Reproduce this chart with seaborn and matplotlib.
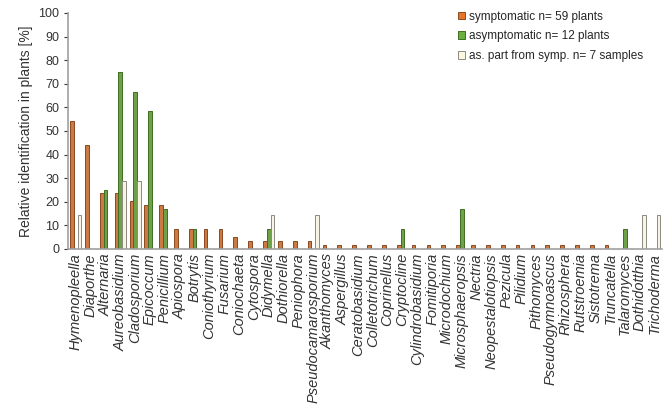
import pandas as pd
import numpy as np
import matplotlib
matplotlib.use("Agg")
import matplotlib.pyplot as plt
import seaborn as sns

# --- data (percent of plants / samples) ---
genera = ["Hymenopleella", "Diaporthe", "Alternaria", "Aureobasidium", "Cladosporium",
          "Epicoccum", "Penicillium", "Apiospora", "Botrytis", "Coniothyrium", "Fusarium",
          "Coniochaeta", "Cytospora", "Didymella", "Dothiorella", "Peniophora",
          "Pseudocamarosporium", "Akanthomyces", "Aspergillus", "Ceratobasidium",
          "Colletotrichum", "Coprinellus", "Cryptocline", "Cylindrobasidium", "Fomitiporia",
          "Microdochium", "Microsphaeropsis", "Nectria", "Neopestalotiopsis", "Pezicula",
          "Pilidium", "Pithomyces", "Pseudogymnoascus", "Rhizosphera", "Rutstroemia",
          "Sistotrema", "Truncatella", "Talaromyces", "Dothidotthia", "Trichoderma"]

symptomatic = [54.2, 44.1, 23.7, 23.7, 20.3, 18.6, 18.6, 8.5, 8.5, 8.5, 8.5,
               5.1, 3.4, 3.4, 3.4, 3.4, 3.4, 1.7, 1.7, 1.7,
               1.7, 1.7, 1.7, 1.7, 1.7, 1.7, 1.7, 1.7, 1.7, 1.7,
               1.7, 1.7, 1.7, 1.7, 1.7, 1.7, 1.7, 0, 0, 0]
asymptomatic = [0, 0, 25.0, 75.0, 66.7, 58.3, 16.7, 0, 8.3, 0, 0,
                0, 0, 8.3, 0, 0, 0, 0, 0, 0,
                0, 0, 8.3, 0, 0, 0, 16.7, 0, 0, 0,
                0, 0, 0, 0, 0, 0, 0, 8.3, 0, 0]
as_part = [14.3, 0, 0, 28.6, 28.6, 0, 0, 0, 0, 0, 0,
           0, 0, 14.3, 0, 0, 14.3, 0, 0, 0,
           0, 0, 0, 0, 0, 0, 0, 0, 0, 0,
           0, 0, 0, 0, 0, 0, 0, 0, 14.3, 14.3]

series = ["symptomatic n= 59 plants", "asymptomatic n= 12 plants",
          "as. part from symp. n= 7 samples"]

df = pd.DataFrame({
    "genus": genera * 3,
    "value": symptomatic + asymptomatic + as_part,
    "series": [series[0]] * len(genera) + [series[1]] * len(genera) + [series[2]] * len(genera),
})

face = ["#E4742C", "#6BAF3C", "#FBF6E2"]
edge = ["#8A4A22", "#3F6E22", "#8C8A80"]

sns.set_style("white")
plt.rcParams["font.family"] = ["Liberation Sans", "DejaVu Sans"]

fig = plt.figure(figsize=(6.69, 4.19), dpi=100)
ax = fig.add_axes([0.102, 0.406, 0.888, 0.563])

sns.barplot(data=df, x="genus", y="value", hue="series", palette=face,
            width=0.75, linewidth=0.7, legend=False, ax=ax)

# edge colours per series
for cont, ec in zip(ax.containers, edge):
    for bar in cont:
        bar.set_edgecolor(ec)

ax.set_ylim(0, 100)
ax.set_xlim(-0.5, len(genera) - 0.5)
ax.set_yticks(range(0, 101, 10))
ax.set_xlabel("")
ax.set_ylabel("Relative identification in plants [%]", fontsize=10, color="#333333")
ax.tick_params(axis="y", labelsize=9, colors="#333333", length=3, width=0.8, direction="out", left=True)
ax.tick_params(axis="x", length=0, pad=3)
ax.set_xticks(range(len(genera)))
ax.set_xticklabels(genera, rotation=90, fontstyle="italic", fontsize=10.5, color="#333333")
for s in ["top", "right"]:
    ax.spines[s].set_visible(False)
for s in ["left", "bottom"]:
    ax.spines[s].set_color("#A0A0A0")
    ax.spines[s].set_linewidth(1.2)

handles = [plt.Rectangle((0, 0), 1, 1, facecolor=f, edgecolor=e, linewidth=0.7)
           for f, e in zip(face, edge)]
ax.legend(handles, series, loc="upper right", bbox_to_anchor=(0.975, 1.03), frameon=False,
          fontsize=8.5, handlelength=0.6, handleheight=0.6, handletextpad=0.3,
          labelspacing=0.65, borderaxespad=0)

fig.savefig("out.png", dpi=100)
